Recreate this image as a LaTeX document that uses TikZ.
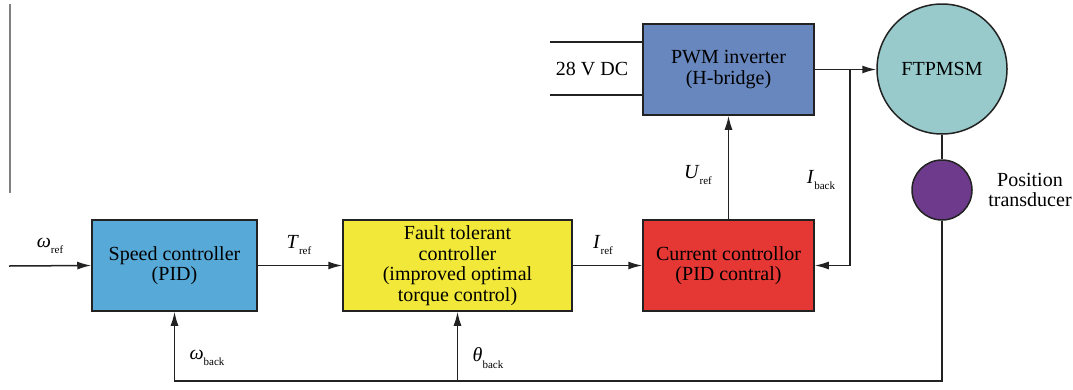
\documentclass[tikz,border=0pt]{standalone}
\usepackage{fontspec}
\setmainfont{Liberation Serif}
\usetikzlibrary{arrows.meta}
\definecolor{cspeed}{HTML}{57AAD8}
\definecolor{cftc}{HTML}{F2E83A}
\definecolor{ccur}{HTML}{E53734}
\definecolor{cpwm}{HTML}{6787BE}
\definecolor{cmotor}{HTML}{98CACC}
\definecolor{cpos}{HTML}{6E3B8C}
\definecolor{cline}{HTML}{222222}
\newcommand{\lab}[2]{\textit{#1}\raisebox{-0.7ex}{\fontsize{11}{11}\selectfont #2}}
\tikzset{
  blk/.style={draw=cline, line width=1.5pt, minimum height=91pt, align=center, font=\fontsize{20}{20.5}\selectfont, inner sep=2pt},
  circ/.style={draw=cline, line width=1.5pt, circle, inner sep=0pt, font=\fontsize{20}{20.5}\selectfont},
  arr/.style={draw=cline, line width=1.5pt, -{Latex[length=14pt,width=8pt]}},
  wire/.style={draw=cline, line width=1.5pt},
  sig/.style={font=\fontsize{20}{20}\selectfont, inner sep=0pt},
  txt/.style={font=\fontsize{20}{20.5}\selectfont, align=center, inner sep=0pt}
}
\begin{document}
\begin{tikzpicture}[x=1pt,y=-1pt]
\useasboundingbox[fill=white] (0,0) rectangle (1073,389);
\draw[gray, line width=1.5pt] (10,4) -- (10,193);
\node[blk, fill=cspeed, minimum width=165pt] (speed) at (174.5,265.5) {Speed controller\\(PID)};
\node[blk, fill=cftc, minimum width=229pt] (ftc) at (457.5,265.5) {Fault tolerant\\controller\\(improved optimal\\torque control)};
\node[blk, fill=ccur, minimum width=171pt] (cur) at (728.5,265.5) {Current controllor\\(PID contral)};
\node[blk, fill=cpwm, minimum width=171pt] (pwm) at (728.5,69.5) {PWM inverter\\(H-bridge)};
\node[circ, fill=cmotor, minimum size=130pt] (motor) at (942,69) {FTPMSM};
\node[circ, fill=cpos, minimum size=60pt] (pos) at (942,190) {};
\node[txt] (postxt) at (1030,190) {Position\\transducer};
\coordinate (dc1) at (550,42);
\coordinate (dc2) at (550,95);
\draw[wire] (dc1) -- (pwm.west |- dc1);
\draw[wire] (dc2) -- (pwm.west |- dc2);
\node[txt] (dctxt) at (592,69) {28 V DC};
\coordinate (in) at (9,266);
\draw[arr] (in) -- (speed.west);
\draw[arr] (speed) -- (ftc);
\draw[arr] (ftc) -- (cur);
\draw[arr] (cur.north) -- (pwm.south);
\coordinate (j) at (850,69.5);
\draw[arr] (pwm.east) -- (motor.west |- pwm.east);
\draw[arr] (j) |- (cur.east);
\draw[wire] (motor.south) -- (pos.north);
\coordinate (fb) at (942,381);
\coordinate (tb) at (457.5,381);
\draw[arr] (pos.south) -- (fb) -| (speed.south);
\draw[arr] (tb) -- (ftc.south);
\node[sig] (wref) at (50,246) {\lab{ω}{ref}};
\node[sig] (tref) at (299,245) {\lab{T}{ref}};
\node[sig] (iref) at (603,245) {\lab{I}{ref}};
\node[sig] (uref) at (698,175) {\lab{U}{ref}};
\node[sig] (iback) at (821,180) {\lab{I}{back}};
\node[sig] (wback) at (207,358) {\lab{ω}{back}};
\node[sig] (tback) at (488,358) {\lab{θ}{back}};
\end{tikzpicture}
\end{document}
